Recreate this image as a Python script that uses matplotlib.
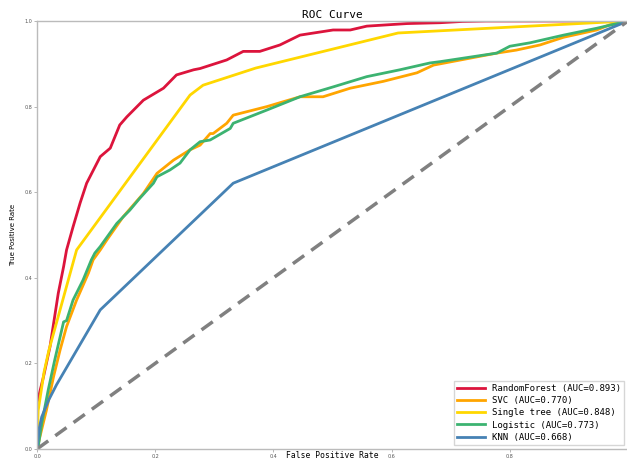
import matplotlib
matplotlib.use("Agg")
import matplotlib.pyplot as plt

# ROC points
rf_fpr = [0.0, 0.0, 0.011, 0.022, 0.036, 0.045, 0.050, 0.061, 0.073, 0.084, 0.107, 0.124,
          0.140, 0.152, 0.180, 0.214, 0.236, 0.265, 0.276, 0.321, 0.349, 0.377, 0.411,
          0.445, 0.501, 0.530, 0.558, 0.626, 0.682, 0.720, 0.760, 1.0]
rf_tpr = [0.0, 0.107, 0.169, 0.239, 0.364, 0.426, 0.465, 0.519, 0.575, 0.621, 0.683, 0.703,
          0.757, 0.776, 0.815, 0.843, 0.874, 0.886, 0.889, 0.909, 0.929, 0.929, 0.944,
          0.967, 0.979, 0.979, 0.988, 0.994, 0.996, 0.999, 1.0, 1.0]

svc_fpr = [0.0, 0.005, 0.016, 0.028, 0.039, 0.050, 0.067, 0.087, 0.095, 0.107, 0.118, 0.146,
           0.180, 0.203, 0.231, 0.259, 0.276, 0.293, 0.298, 0.321, 0.332, 0.389, 0.445,
           0.484, 0.530, 0.586, 0.643, 0.671, 0.778, 0.811, 0.851, 0.891, 0.947, 0.969, 1.0]
svc_tpr = [0.0, 0.029, 0.091, 0.169, 0.231, 0.286, 0.348, 0.411, 0.442, 0.465, 0.488, 0.543,
           0.597, 0.644, 0.675, 0.699, 0.710, 0.737, 0.737, 0.761, 0.780, 0.800, 0.823,
           0.823, 0.843, 0.859, 0.879, 0.897, 0.925, 0.932, 0.944, 0.962, 0.979, 0.991, 1.0]

tree_fpr = [0.0, 0.002, 0.012, 0.020, 0.067, 0.259, 0.281, 0.370, 0.611, 1.0]
tree_tpr = [0.0, 0.090, 0.180, 0.230, 0.465, 0.827, 0.850, 0.890, 0.972, 1.0]

log_fpr = [0.0, 0.002, 0.008, 0.019, 0.030, 0.045, 0.050, 0.061, 0.078, 0.092, 0.098, 0.107,
           0.135, 0.157, 0.174, 0.197, 0.203, 0.225, 0.242, 0.259, 0.276, 0.293, 0.327,
           0.332, 0.389, 0.445, 0.501, 0.558, 0.614, 0.665, 0.682, 0.778, 0.800, 0.834,
           0.891, 0.947, 1.0]
log_tpr = [0.0, 0.005, 0.060, 0.138, 0.208, 0.297, 0.300, 0.348, 0.395, 0.442, 0.458, 0.473,
           0.527, 0.558, 0.586, 0.621, 0.636, 0.652, 0.668, 0.699, 0.718, 0.722, 0.749,
           0.761, 0.792, 0.823, 0.846, 0.870, 0.886, 0.902, 0.905, 0.925, 0.941, 0.949,
           0.967, 0.983, 1.0]

knn_fpr = [0.0, 0.004, 0.008, 0.020, 0.033, 0.107, 0.332, 1.0]
knn_tpr = [0.0, 0.050, 0.075, 0.115, 0.150, 0.325, 0.621, 1.0]

labels = ["RandomForest (AUC=0.893)", "SVC (AUC=0.770)", "Single tree (AUC=0.848)",
          "Logistic (AUC=0.773)", "KNN (AUC=0.668)"]
colors = ["#DC143C", "#FFA500", "#FFD700", "#3CB371", "#4682B4"]

fig = plt.figure(figsize=(6.27, 4.61), dpi=100)
ax = fig.add_axes([37 / 627, 12 / 461, 591 / 627, 428 / 461])

curves = [(rf_fpr, rf_tpr), (svc_fpr, svc_tpr), (tree_fpr, tree_tpr),
          (log_fpr, log_tpr), (knn_fpr, knn_tpr)]
for (fpr, tpr), lab, c in zip(curves, labels, colors):
    ax.plot(fpr, tpr, color=c, lw=2, label=lab)

# chance line
ax.plot([0, 1], [0, 1], color="#808080", lw=2.5, ls=(0, (4, 2.5)))

ax.set_xlim(0, 1)
ax.set_ylim(0, 1)
# the 1.0 x tick falls off the right edge in the original
ax.set_xticks([0, 0.2, 0.4, 0.6, 0.8])
ax.set_yticks([0, 0.2, 0.4, 0.6, 0.8, 1.0])
ax.tick_params(labelsize=3.5, length=2, width=0.5, color="#999999", labelcolor="#555555",
               pad=1.5)
for s in ax.spines.values():
    s.set_color("#bbbbbb")
    s.set_linewidth(1)

ax.set_title("ROC Curve", family="DejaVu Sans Mono", fontsize=8, pad=2)
ax.set_xlabel("False Positive Rate", family="DejaVu Sans Mono", fontsize=5.8)
# sits between the 0.4 and 0.6 tick labels so it stays inside the canvas
ax.xaxis.set_label_coords(0.5, -0.004)
ax.set_ylabel("True Positive Rate", fontsize=5, labelpad=6)

leg = ax.legend(loc="lower right", prop={"family": "DejaVu Sans Mono", "size": 6.5},
                frameon=True, fancybox=False, edgecolor="#cccccc", handlelength=3,
                borderaxespad=0.4, labelspacing=0.35)

fig.savefig("out.png", dpi=100)
